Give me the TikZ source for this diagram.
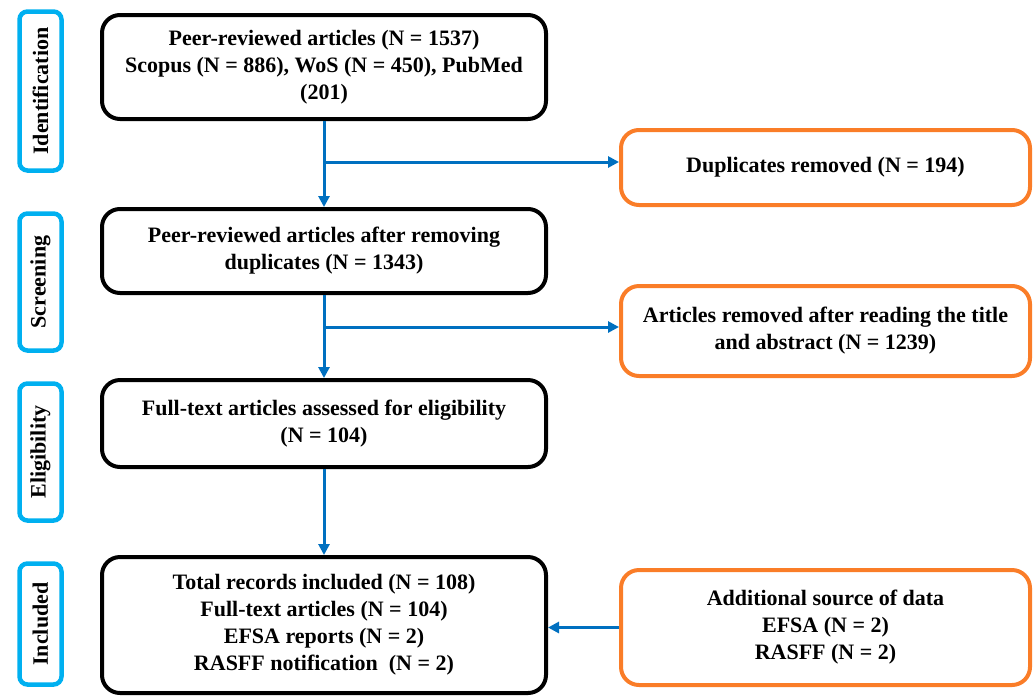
\documentclass[tikz,border=0pt]{standalone}
\usepackage{fontspec}
\setmainfont{Liberation Serif}
\usetikzlibrary{arrows.meta}
\definecolor{stagecyan}{RGB}{0,176,240}
\definecolor{sideorange}{RGB}{250,125,40}
\definecolor{arrowblue}{RGB}{0,112,192}
\tikzset{
  txt/.style={font=\fontsize{22}{27}\selectfont\bfseries, align=center, inner sep=0pt},
  stagebox/.style={draw=stagecyan, line width=4.5pt, rounded corners=8pt, minimum height=42pt, txt, rotate=90},
  mainbox/.style={draw=black, line width=4pt, rounded corners=18pt, minimum width=444pt, txt},
  sidebox/.style={draw=sideorange, line width=4pt, rounded corners=18pt, minimum width=409pt, txt},
  flow/.style={draw=arrowblue, line width=3pt, -{Triangle[length=11pt,width=11pt]}}
}
\begin{document}
\begin{tikzpicture}[x=1pt,y=-1pt]
\useasboundingbox (0,0) rectangle (1035,697);
% stage labels
\node[stagebox, minimum width=159pt] (sid) at (40.5,91) {Identification};
\node[stagebox, minimum width=137pt] (sscr) at (40.5,282) {Screening};
\node[stagebox, minimum width=137pt] (seli) at (40.5,452) {Eligibility};
\node[stagebox, minimum width=121pt] (sinc) at (40.5,624) {Included};
% main boxes
\node[mainbox, minimum height=104pt] (b1) at (324,67) {Peer-reviewed articles (N = 1537)\\Scopus (N = 886), WoS (N = 450), PubMed\\(201)};
\node[mainbox, minimum height=84pt] (b2) at (324,251) {Peer-reviewed articles after removing\\duplicates (N = 1343)};
\node[mainbox, minimum height=87pt] (b3) at (324,423.5) {Full-text articles assessed for eligibility\\(N = 104)};
\node[mainbox, minimum height=136pt] (b4) at (324,625) {Total records included (N = 108)\\Full-text articles (N = 104)\\EFSA reports (N = 2)\\RASFF notification\ \ (N = 2)};
% side boxes
\node[sidebox, minimum height=75pt] (o1) at (825.5,167.5) {Duplicates removed (N = 194)};
\node[sidebox, minimum height=90pt] (o2) at (825.5,331) {Articles removed after reading the title\\and abstract (N = 1239)};
\node[sidebox, minimum height=115pt] (o3) at (825.5,627.5) {Additional source of data\\EFSA (N = 2)\\RASFF (N = 2)};
% connectors
\coordinate (t1) at ([yshift=5.5pt]o1.west);
\coordinate (t2) at ([yshift=4pt]o2.west);
\draw[flow] (b1.south) -- (b2.north);
\draw[flow] (b1.south |- t1) -- (t1);
\draw[flow] (b2.south) -- (b3.north);
\draw[flow] (b2.south |- t2) -- (t2);
\draw[flow] (b3.south) -- (b4.north);
\draw[flow] (o3.west) -- (b4.east |- o3.west);
\end{tikzpicture}
\end{document}
